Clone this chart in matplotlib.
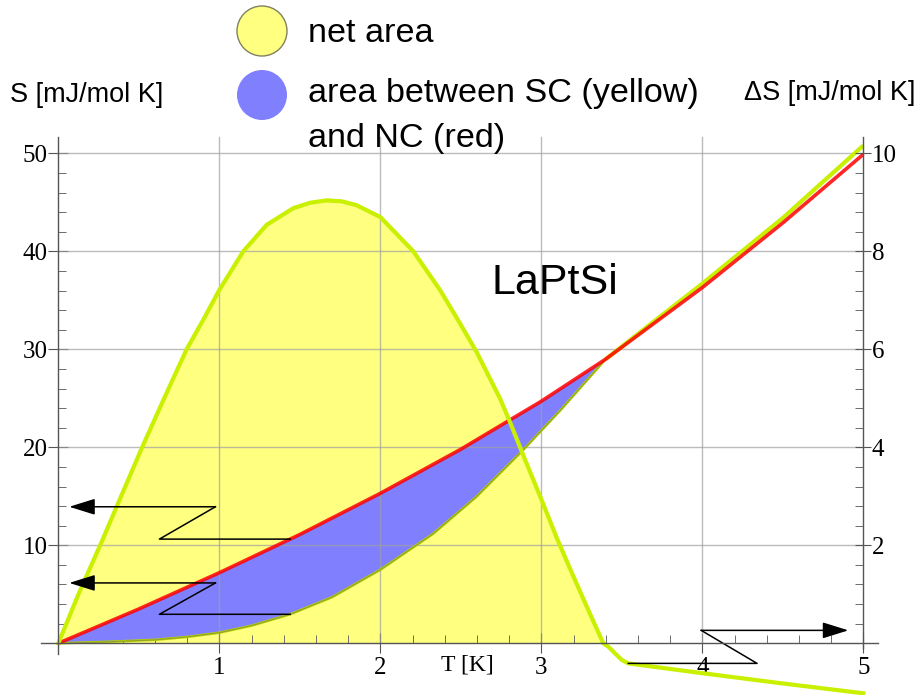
import numpy as np
import matplotlib
matplotlib.use('Agg')
import matplotlib.pyplot as plt
from matplotlib.patches import Circle
from matplotlib.ticker import FixedLocator

# normal-state entropy (red), S in mJ/mol K
T_nc = [0, 0.5, 1.0, 1.5, 2.0, 2.5, 3.0, 3.4, 4.0, 4.5, 5.0]
S_nc = [0, 3.5, 7.2, 11.1, 15.3, 19.8, 24.7, 29.0, 36.3, 42.9, 49.9]

# superconducting-state entropy
T_sc = [0, 0.3, 0.6, 0.8, 1.0, 1.2, 1.44, 1.7, 2.0, 2.33, 2.6, 2.88, 3.12, 3.4,
        4.0, 4.5, 5.0]
S_sc = [0, 0.15, 0.35, 0.65, 1.08, 1.8, 2.96, 4.7, 7.5, 11.2, 15.0, 19.6, 23.8, 29.0,
        36.7, 43.4, 50.8]
Tc = 3.4

# entropy difference (right axis)
T_ds = [0, 0.125, 0.26, 0.39, 0.518, 0.652, 0.797, 0.90, 1.0, 1.149, 1.294, 1.46,
        1.563, 1.667, 1.76, 1.853, 2.0, 2.205, 2.371, 2.495, 2.599, 2.743, 2.8, 2.9,
        3.0, 3.1, 3.2, 3.3, 3.385, 3.42, 3.45, 3.5, 3.54, 4.0, 4.5, 5.0]
dS = [0, 1.0, 2.0, 3.0, 3.98, 4.96, 6.0, 6.6, 7.21, 8.0, 8.54, 8.88,
      8.99, 9.04, 9.02, 8.94, 8.7, 8.0, 7.21, 6.53, 5.94, 5.0, 4.56, 3.74,
      2.94, 2.12, 1.36, 0.62, 0, -0.08, -0.18, -0.34, -0.41, -0.61, -0.82, -1.02]

x_ticks = [1, 2, 3, 4, 5]
s_ticks = [10, 20, 30, 40, 50]
ds_ticks = [2, 4, 6, 8, 10]

T_nc, S_nc = np.array(T_nc), np.array(S_nc)
T_sc, S_sc = np.array(T_sc), np.array(S_sc)
T_ds, dS = np.array(T_ds), np.array(dS)

sans = 'Liberation Sans'
serif = 'Liberation Serif'
lime = '#c8f000'

fig = plt.figure(figsize=(9.2, 6.95), dpi=100)
ax = fig.add_axes([0.03712, 0.0, 0.9275, 0.8076])
ax.set_xlim(-0.15, 5.15)
ax.set_ylim(-5.276, 52)
ax2 = ax.twinx()
ax2.set_ylim(-5.276 / 5, 52 / 5)
ax2.patch.set_visible(False)
dtr = ax2.transData  # dS drawn in right-axis units

# yellow net area
ax.fill_between(T_ds, dS, 0, where=dS >= 0, interpolate=True, color='#ffff80',
                lw=0, zorder=1, transform=dtr)

# blue area between SC and NC below Tc
m_nc = T_nc <= Tc
m_sc = T_sc <= Tc
px = np.concatenate([T_nc[m_nc], T_sc[m_sc][::-1]])
py = np.concatenate([S_nc[m_nc], S_sc[m_sc][::-1]])
ax.fill(px, py, color='#8080ff', lw=0, zorder=2)

# grid
for t in x_ticks[:-1]:
    ax.plot([t, t], [0, 51.7], color='#a0a0a0', lw=1, alpha=0.7, zorder=3)
for s in s_ticks:
    ax.plot([0, 5], [s, s], color='#a0a0a0', lw=1, alpha=0.7, zorder=3)

# curves
ax.plot(T_sc[T_sc >= Tc], S_sc[T_sc >= Tc], color=lime, lw=3, zorder=3.5,
        solid_capstyle='butt')
ax.plot(T_sc[m_sc], S_sc[m_sc], color='#b4d000', lw=1.8, zorder=3.6)
ax.plot(T_sc[m_sc], S_sc[m_sc], color='#707060', lw=0.6, alpha=0.6, zorder=3.7)
ax.plot(T_nc, S_nc, color='#ff0000', lw=2.6, alpha=0.85, zorder=4,
        solid_capstyle='butt')
ax.plot(T_ds, dS, color=lime, lw=3, zorder=5, transform=dtr, clip_on=False,
        solid_joinstyle='round')

# zigzag arrows from the curves to their axes
def zigzag(x0, y0, dx1, dx2, dy, xtip, tr):
    xs = [x0, x0 + dx1, x0 + dx2]
    ys = [y0, y0, y0 + dy]
    ax.plot(xs, ys, color='k', lw=1.1, zorder=6, transform=tr)
    ax.annotate('', xy=(xtip, y0 + dy), xytext=(xs[-1], ys[-1]),
                xycoords=tr, textcoords=tr, zorder=6,
                arrowprops=dict(arrowstyle='-|>,head_length=0.8,head_width=0.25',
                                mutation_scale=20, color='k', lw=1.1,
                                shrinkA=0, shrinkB=0))

ta = 1.44
zigzag(ta, np.interp(ta, T_nc, S_nc), -0.812, -0.464, 3.3, 0.068, ax.transData)
zigzag(ta, np.interp(ta, T_sc, S_sc), -0.812, -0.464, 3.2, 0.068, ax.transData)
tb = 3.54
zigzag(tb, np.interp(tb, T_ds, dS), 0.8, 0.453, 0.674, 4.907, dtr)

# spines
for a in (ax, ax2):
    a.spines['top'].set_visible(False)
ax.spines['right'].set_visible(False)
ax2.spines['left'].set_visible(False)
ax2.spines['bottom'].set_visible(False)
ax.spines['left'].set_position(('data', 0))
ax.spines['left'].set_bounds(-1.1, 51.7)
ax.spines['bottom'].set_position(('data', 0))
ax.spines['bottom'].set_bounds(-0.11, 5.09)
ax2.spines['right'].set_position(('data', 5))
ax2.spines['right'].set_bounds(-0.1, 10.33)
for sp in (ax.spines['left'], ax.spines['bottom'], ax2.spines['right']):
    sp.set_color('#555555')
    sp.set_linewidth(1)
    sp.set_zorder(6)

ax.set_xticks(x_ticks)
ax.xaxis.set_minor_locator(FixedLocator([v / 5 for v in range(1, 25) if v % 5]))
ax.set_yticks(s_ticks)
ax.yaxis.set_minor_locator(FixedLocator([v for v in range(2, 51, 2) if v % 10]))
ax2.set_yticks(ds_ticks)
ax2.yaxis.set_minor_locator(FixedLocator([v * 0.4 for v in range(1, 26) if v % 5]))

ax.tick_params(axis='x', which='major', direction='inout', length=14, pad=3,
               color='#555555', labelsize=18)
ax.tick_params(axis='x', which='minor', direction='in', length=6, color='#555555')
ax.tick_params(axis='y', which='major', direction='inout', length=14, pad=0.5,
               color='#555555', labelsize=18)
ax.tick_params(axis='y', which='minor', direction='in', length=6, color='#555555')
ax2.tick_params(axis='y', which='major', direction='inout', length=12, pad=0,
                color='#555555', labelsize=18)
ax2.tick_params(axis='y', which='minor', direction='in', length=6, color='#555555')
for lab in ax.get_xticklabels() + ax.get_yticklabels() + ax2.get_yticklabels():
    lab.set_fontfamily(serif)

ax.text(2.54, -2.2, 'T [K]', family=serif, fontsize=17, ha='center', va='center')
ax.text(2.69, 35.6, 'LaPtSi', family=sans, fontsize=31, ha='left', va='baseline')

# axis titles and legend in figure pixels
W, H = 920, 695
fig.text(10 / W, 1 - 95 / H, 'S [mJ/mol K]', family=sans, fontsize=19.5,
         ha='left', va='center')
fig.text(915 / W, 1 - 93 / H, 'ΔS [mJ/mol K]', family=sans, fontsize=19.5,
         ha='right', va='center')
fig.add_artist(Circle((262, H - 31), 25, transform=None, facecolor='#ffff80',
                      edgecolor='#808060', lw=1))
fig.add_artist(Circle((262, H - 95), 25, transform=None, facecolor='#8080ff',
                      edgecolor='none'))
fig.text(308 / W, 1 - 41.5 / H, 'net area', family=sans, fontsize=24.6,
         ha='left', va='baseline')
fig.text(308 / W, 1 - 102 / H, 'area between SC (yellow)', family=sans,
         fontsize=24.6, ha='left', va='baseline')
fig.text(308 / W, 1 - 147 / H, 'and NC (red)', family=sans, fontsize=24.6,
         ha='left', va='baseline')

fig.savefig('out.png', dpi=100)
